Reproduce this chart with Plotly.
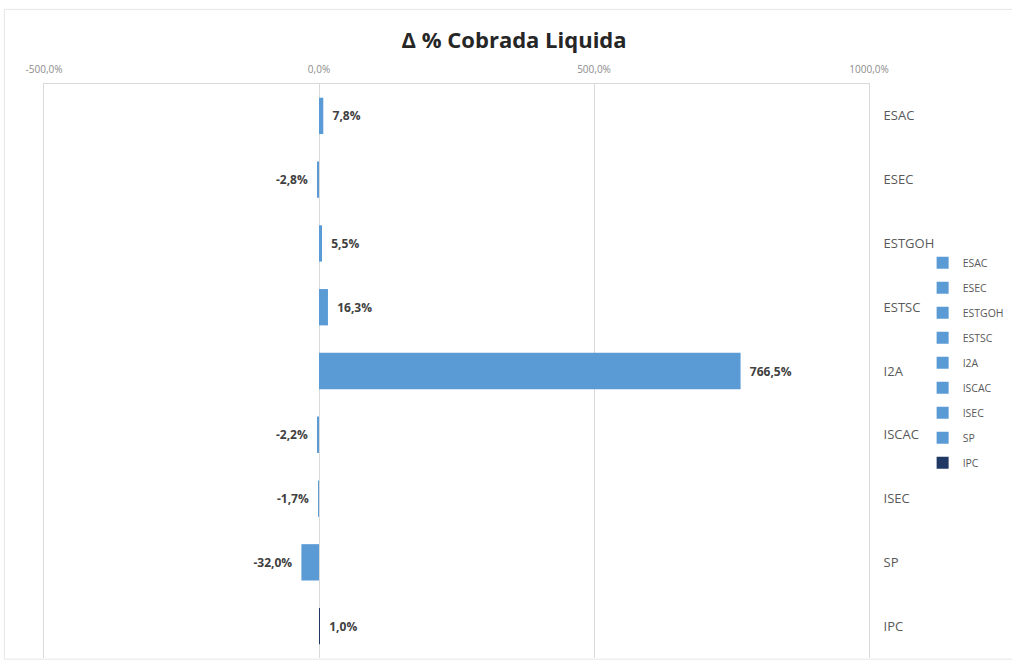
import plotly.graph_objects as go

categories = ["ESAC", "ESEC", "ESTGOH", "ESTSC", "I2A", "ISCAC", "ISEC", "SP", "IPC"]
values = [7.8, -2.8, 5.5, 16.3, 766.5, -2.2, -1.7, -32.0, 1.0]
colors = ["#5B9BD5"] * 8 + ["#203864"]
x_ticks = [-500, 0, 500, 1000]
x_tick_text = ["-500,0%", "0,0%", "500,0%", "1000,0%"]

FONT = "Liberation Sans Narrow, Arial Narrow, Open Sans, sans-serif"
PAD = "\u00a0\u00a0"

def fmt(v):
    s = f"{v:.1f}".replace(".", ",") + "%"
    return PAD + s if v >= 0 else s + PAD

fig = go.Figure()
for cat, val, col in zip(categories, values, colors):
    fig.add_trace(go.Bar(
        x=[val], y=[cat], orientation="h", name=cat,
        marker=dict(color=col, line=dict(width=0)),
        text=[fmt(val)], textposition="outside", cliponaxis=False,
        textfont=dict(family=FONT, size=12, color="#404040", weight="bold"),
        legendgroup=cat, width=0.57,
    ))

fig.update_layout(
    width=1012, height=666,
    paper_bgcolor="white", plot_bgcolor="white",
    barmode="overlay",
    margin=dict(l=44, r=143, t=84, b=8, autoexpand=False),
    title=dict(text="<b>Δ % Cobrada Liquida</b>", x=0.508, xanchor="center",
               y=0.94, yanchor="middle",
               font=dict(family=FONT, size=22, color="#262626")),
    xaxis=dict(side="top", range=[-500, 1000], tickvals=x_ticks,
               ticktext=x_tick_text, ticklabelstandoff=6,
               showgrid=True, gridcolor="#D9D9D9", gridwidth=1,
               zeroline=True, zerolinecolor="#D9D9D9", zerolinewidth=1,
               showline=True, linecolor="#D9D9D9", linewidth=1, ticks="",
               tickfont=dict(family=FONT, size=10, color="#8C8C8C")),
    yaxis=dict(side="right", categoryorder="array", categoryarray=categories,
               autorange="reversed", showgrid=False, zeroline=False,
               showline=True, mirror=True, linecolor="#D9D9D9", linewidth=1,
               ticks="", ticklabelstandoff=11,
               tickfont=dict(family=FONT, size=13, color="#595959")),
    legend=dict(x=1.065, y=0.714, xanchor="left", yanchor="top",
                font=dict(family=FONT, size=10.5, color="#595959"),
                tracegroupgap=6, bgcolor="rgba(0,0,0,0)",
                itemwidth=30),
    shapes=[dict(type="rect", xref="paper", yref="paper",
                 x0=-0.048, x1=1.2, y0=-0.002, y1=1.13,
                 line=dict(color="#E6E6E6", width=1))],
)

fig.write_html("out.html", config={"displayModeBar": False},
               post_script="document.body.style.margin='0';document.body.style.overflow='hidden';")
